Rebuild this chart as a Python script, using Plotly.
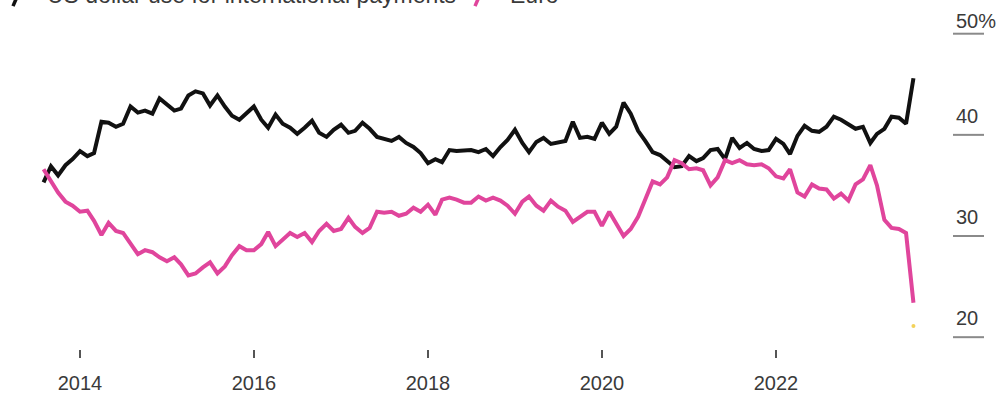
import pandas as pd
import plotly.graph_objects as go

# Monthly shares of international payments, Aug 2013 - Aug 2023 (percent)
months = pd.date_range("2013-08-01", periods=121, freq="MS")

usd_share = [
    35.3, 36.9, 36.0, 37.0, 37.6, 38.4, 37.9, 38.2, 41.3, 41.2,
    40.8, 41.1, 42.8, 42.2, 42.4, 42.1, 43.6, 43.0, 42.4, 42.6,
    43.9, 44.3, 44.1, 42.9, 43.9, 42.8, 41.9, 41.5, 42.1, 42.8,
    41.5, 40.7, 42.0, 41.1, 40.7, 40.1, 40.7, 41.4, 40.2, 39.8,
    40.5, 41.0, 40.2, 40.4, 41.2, 40.6, 39.8, 39.6, 39.4, 39.8,
    39.2, 38.8, 38.2, 37.2, 37.6, 37.3, 38.5, 38.4, 38.5, 38.5,
    38.3, 38.6, 37.9, 38.8, 39.5, 40.5, 39.2, 38.3, 39.3, 39.7,
    39.1, 39.2, 39.4, 41.3, 39.7, 39.8, 39.6, 41.2, 40.1, 40.8,
    43.2, 42.1, 40.4, 39.4, 38.3, 38.0, 37.4, 36.8, 36.9, 37.9,
    37.4, 37.7, 38.5, 38.6, 37.6, 39.7, 38.7, 39.2, 38.6, 38.4,
    38.5, 39.6, 39.1, 38.1, 39.9, 40.9, 40.4, 40.3, 40.8, 41.8,
    41.5, 41.1, 40.6, 40.8, 39.2, 40.1, 40.6, 41.8, 41.7, 41.1,
    45.6,
]

eur_share = [
    36.6, 35.5, 34.3, 33.4, 33.0, 32.4, 32.5, 31.5, 30.1, 31.3,
    30.5, 30.3, 29.3, 28.2, 28.6, 28.4, 27.9, 27.5, 27.9, 27.2,
    26.1, 26.3, 26.9, 27.4, 26.3, 27.0, 28.1, 29.0, 28.6, 28.6,
    29.2, 30.4, 29.0, 29.7, 30.3, 29.9, 30.3, 29.4, 30.5, 31.2,
    30.5, 30.7, 31.8, 30.9, 30.3, 30.8, 32.4, 32.3, 32.4, 32.0,
    32.2, 32.8, 32.4, 33.1, 32.1, 33.6, 33.8, 33.6, 33.3, 33.3,
    33.9, 33.5, 33.8, 33.5, 33.0, 32.2, 33.4, 33.9, 33.0, 32.5,
    33.5, 32.9, 32.5, 31.4, 31.9, 32.4, 32.4, 31.0, 32.4, 31.3,
    30.0, 30.7, 31.9, 33.6, 35.4, 35.1, 35.8, 37.5, 37.2, 36.6,
    36.7, 36.5, 35.0, 35.8, 37.5, 37.2, 37.5, 37.1, 37.0, 37.1,
    36.7, 35.9, 35.7, 36.6, 34.3, 33.9, 35.1, 34.7, 34.6, 33.7,
    34.2, 33.5, 35.1, 35.6, 37.0, 35.0, 31.6, 30.8, 30.7, 30.3,
    23.4,
]

# Small highlight dot under the last month
dot_value = [21.1]

year_ticks = ["2014", "2016", "2018", "2020", "2022"]
value_ticks = [50, 40, 30, 20]
value_labels = ["50%", "40", "30", "20"]

USD_COLOR = "#111111"
EUR_COLOR = "#e0459c"
FONT = "Liberation Sans, Arial, sans-serif"
TEXT_COLOR = "#3a3a3a"

W, H = 1005, 394
TOP, BOTTOM = 14, 40
PLOT_H = H - TOP - BOTTOM

fig = go.Figure()
fig.add_trace(go.Scatter(
    x=months, y=usd_share, mode="lines",
    line=dict(color=USD_COLOR, width=4),
    name="US dollar use for international payments", showlegend=False,
))
fig.add_trace(go.Scatter(
    x=months, y=eur_share, mode="lines",
    line=dict(color=EUR_COLOR, width=4),
    name="Euro", showlegend=False,
))
fig.add_trace(go.Scatter(
    x=[months[-1]], y=dot_value, mode="markers",
    marker=dict(color="#f3d25a", size=4), showlegend=False,
))

# Horizontal scale: 2014 at px 80, 2022 at px 776
t0 = pd.Timestamp("2014-01-01")
t1 = pd.Timestamp("2022-01-01")
per_px = (t1 - t0) / 696
x_range = [t0 - 80 * per_px, t0 + (W - 80) * per_px]

# Vertical scale: 50 at px 34, 20 at px 342
px_per_unit = (342 - 34) / 30
y_max = 50 + (34 - TOP) / px_per_unit
y_min = 20 - (H - BOTTOM - 342) / px_per_unit


def paper_y(py):
    return (H - BOTTOM - py) / PLOT_H


# Right-hand value scale: short rules with labels above
for v, lab in zip(value_ticks, value_labels):
    fig.add_shape(type="line", xref="paper", yref="y",
                  x0=953 / W, x1=984 / W, y0=v, y1=v,
                  line=dict(color="#8a8a8a", width=2))
    fig.add_annotation(xref="paper", yref="y", x=954 / W, y=v,
                       text=lab, showarrow=False, xanchor="left",
                       yanchor="middle", yshift=13 if v == 50 else 19,
                       font=dict(family=FONT, size=20, color=TEXT_COLOR))

# Legend row along the top edge
legend_items = [
    (13, 45, USD_COLOR, "US dollar use for international payments"),
    (475, 508, EUR_COLOR, "Euro"),
]
for icon_x, text_x, color, label in legend_items:
    fig.add_shape(type="line", xref="paper", yref="paper",
                  x0=icon_x / W, x1=(icon_x + 6) / W,
                  y0=paper_y(6), y1=paper_y(-8),
                  line=dict(color=color, width=3.5))
    fig.add_annotation(xref="paper", yref="paper", x=text_x / W,
                       y=paper_y(10), text=label, showarrow=False,
                       xanchor="left", yanchor="bottom",
                       font=dict(family=FONT, size=23, color=TEXT_COLOR))

fig.update_layout(
    width=W, height=H,
    margin=dict(l=0, r=0, t=TOP, b=BOTTOM, pad=0),
    paper_bgcolor="white", plot_bgcolor="white",
    showlegend=False,
    xaxis=dict(
        range=x_range, showgrid=False, zeroline=False, showline=False,
        tickmode="array",
        tickvals=[pd.Timestamp(f"{y}-01-01") for y in year_ticks],
        ticktext=year_ticks,
        ticks="outside", ticklen=8, tickwidth=1.5, tickcolor="#555555",
        ticklabelstandoff=8,
        tickfont=dict(family=FONT, size=20, color=TEXT_COLOR),
    ),
    yaxis=dict(
        range=[y_min, y_max], showgrid=False, zeroline=False,
        showline=False, showticklabels=False, ticks="",
    ),
)

fig.write_html("out.html")
